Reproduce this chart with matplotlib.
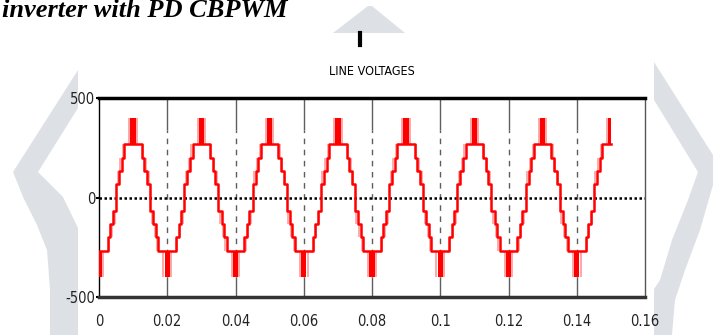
import numpy as np
import matplotlib
matplotlib.use("Agg")
import matplotlib.pyplot as plt
from matplotlib.patches import Polygon, Rectangle
from matplotlib.lines import Line2D

# peaks / troughs of the line voltage, one every half cycle (50 Hz)
peak_times = [0.00, 0.01, 0.02, 0.03, 0.04, 0.05, 0.06, 0.07,
              0.08, 0.09, 0.10, 0.11, 0.12, 0.13, 0.14, 0.15]
peak_signs = [-1, 1, -1, 1, -1, 1, -1, 1, -1, 1, -1, 1, -1, 1, -1, 1]

# staircase read around one peak: level held inside +/- edge (ms)
step_edges_ms = [2.6, 3.3, 4.1, 5.0]
step_levels = [270, 200, 133, 67]
spike_level = 400
spike_half_ms = 0.8
chatter_ms = [2.95, 3.7, 4.55]
t_stop = 0.15

x_ticks = [0, 0.02, 0.04, 0.06, 0.08, 0.10, 0.12, 0.14, 0.16]
x_labels = ["0", "0.02", "0.04", "0.06", "0.08", "0.1", "0.12", "0.14", "0.16"]
y_ticks = [-500, 0, 500]
y_labels = ["-500", "0", "500"]

RED = "#ff0000"
WATERMARK = "#dde1e5"
NARROW = ["Liberation Sans Narrow", "DejaVu Sans"]
W, H = 713, 335


def _fig_xy(points):
    # pixel coords (y down) -> figure fraction
    return [(x / W, 1 - y / H) for x, y in points]


def _half_wave(tp, sign):
    edges = [-e for e in reversed(step_edges_ms)] + step_edges_ms
    levels = list(reversed(step_levels)) + step_levels[1:]
    t = [tp + e / 1000 for e in edges]
    v = [sign * lv for lv in levels] + [sign * levels[-1]]
    return t, v


t_all, v_all = [], []
for tp, s in zip(peak_times, peak_signs):
    t, v = _half_wave(tp, s)
    t_all += t
    v_all += v
t_all = np.array(t_all)
v_all = np.array(v_all)
i0 = np.searchsorted(t_all, 0, side="right") - 1
i1 = np.searchsorted(t_all, t_stop, side="right") - 1
mask = (t_all > 0) & (t_all < t_stop)
t_wave = np.concatenate([[0], t_all[mask], [t_stop]])
v_wave = np.concatenate([[v_all[i0]], v_all[mask], [v_all[i1]]])

fig = plt.figure(figsize=(W / 100, H / 100), dpi=100)
fig.patch.set_facecolor("white")

# background watermark + white chart image
left_chev = [(100, 35.5), (13, 172), (23, 197), (37, 225), (47, 250), (50, 290),
             (50, 335), (100, 335), (100, 270), (78, 228), (63, 197), (38, 172),
             (100, 72.8)]
right_chev = [(640, 40), (713, 155), (713, 185), (700, 230), (685, 270), (675, 300),
              (672, 335), (640, 335), (640, 310), (660, 280), (672, 240), (688, 200),
              (698, 172), (640, 77)]
top_chev = [(333, 33), (368, 6), (372, 6), (405, 33)]
for pts in (left_chev, right_chev, top_chev):
    fig.add_artist(Polygon(_fig_xy(pts), closed=True, transform=fig.transFigure,
                           facecolor=WATERMARK, edgecolor="none", zorder=0.1))
fig.add_artist(Rectangle((78 / W, 0), (654 - 78) / W, 1 - 33 / H,
                         transform=fig.transFigure, facecolor="white",
                         edgecolor="none", zorder=0.2))
fig.add_artist(Line2D([360 / W, 360 / W], [1 - 33 / H, 1 - 45 / H],
                      transform=fig.transFigure, color="black", lw=3, zorder=0.3))

fig.text(0.003, 1 - 17 / H, "inverter with PD CBPWM", fontsize=19,
         family=["Liberation Serif", "DejaVu Serif"], weight="bold", style="italic",
         ha="left", va="baseline", zorder=1)

ax = fig.add_axes([99 / W, 1 - 297 / H, (645 - 99) / W, (297 - 98) / H])
ax.set_zorder(1)

# grid: solid near the frame, dashed in the middle
for x in x_ticks[1:-1]:
    ax.vlines(x, 340, 500, color="#5e5e5e", lw=1, zorder=1)
    ax.vlines(x, -500, -400, color="#5e5e5e", lw=1, zorder=1)
    ax.vlines(x, -400, 340, color="#5e5e5e", lw=1, linestyles=(0, (4, 4)), zorder=1)
ax.axhline(0, color="black", lw=1.8, linestyle=(0, (1, 1)), zorder=1)

# PWM chatter between neighbouring levels
for tp, s in zip(peak_times, peak_signs):
    for i, c in enumerate(chatter_ms):
        for side in (-1, 1):
            tc = tp + side * c / 1000
            if 0 <= tc <= t_stop:
                ax.vlines(tc, s * step_levels[i + 1], s * step_levels[i],
                          color=RED, lw=1.3, alpha=0.35, zorder=2)
    lo = max(0, tp - spike_half_ms / 1000)
    hi = min(t_stop, tp + spike_half_ms / 1000)
    ax.fill_between([lo, hi], s * step_levels[0], s * spike_level,
                    color=RED, lw=0, zorder=3)
    for side in (-1, 1):
        te = tp + side * (spike_half_ms + 0.3) / 1000
        if 0 <= te <= t_stop:
            ax.vlines(te, s * step_levels[0], s * spike_level,
                      color=RED, lw=1.2, alpha=0.4, zorder=2)

ax.step(t_wave, v_wave, where="post", color=RED, lw=1.8, zorder=3)

ax.set_xlim(0, 0.16)
ax.set_ylim(-500, 500)
ax.set_xticks(x_ticks)
ax.set_xticklabels(x_labels)
ax.set_yticks(y_ticks)
ax.set_yticklabels(y_labels)
ax.tick_params(axis="x", length=0, pad=12, labelsize=10.5)
ax.tick_params(axis="y", length=2, width=1.5, pad=0.5, labelsize=10.5)
for lbl in ax.get_xticklabels() + ax.get_yticklabels():
    lbl.set_family(NARROW)
    lbl.set_stretch("condensed")
    lbl.set_color("#222222")

ax.spines["top"].set_linewidth(2.5)
ax.spines["bottom"].set_linewidth(2.5)
ax.spines["bottom"].set_color("#333333")
ax.spines["left"].set_linewidth(1)
ax.spines["right"].set_linewidth(1)
ax.spines["right"].set_color("#555555")

ax.set_title("LINE VOLTAGES", fontsize=9, family=NARROW, stretch="condensed",
             pad=16.5)

fig.savefig("out.png", dpi=100)
